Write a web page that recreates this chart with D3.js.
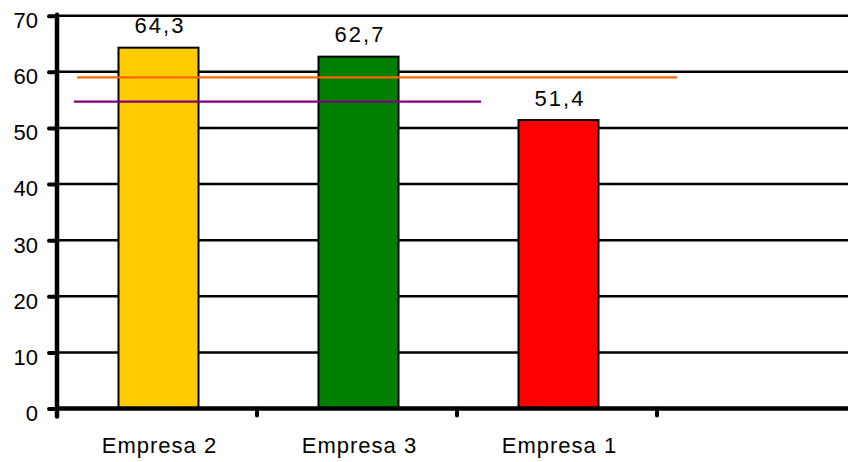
<!DOCTYPE html>
<html>
<head>
<meta charset="utf-8">
<script src="https://cdn.jsdelivr.net/npm/d3@7/dist/d3.min.js"></script>
<style>
  html, body { margin: 0; padding: 0; background: #fff; }
  svg { display: block; font-family: "Liberation Sans", Arial, sans-serif; }
</style>
</head>
<body>
<svg id="chart" width="848" height="462"></svg>
<script>
// Category names, bar values and bar colours
const categories = ["Empresa 2", "Empresa 3", "Empresa 1"];
const values = [64.3, 62.7, 51.4];
const barColors = ["#FFCC00", "#008000", "#FF0000"];

// Horizontal reference lines (value, start and end expressed in category slots)
const refValues = [59.0, 54.7];
const refStart = [0.1, 0.085];
const refEnd = [3.1, 2.12];
const refColors = ["#FF6600", "#800080"];

// Y axis ticks
const yTicks = [0, 10, 20, 30, 40, 50, 60, 70];
const slotCount = 4;

const svg = d3.select("#chart");
const plotLeft = 57, plotBottom = 408.5, plotTop = 15.7;

const x = d3.scaleLinear().domain([0, slotCount]).range([plotLeft, plotLeft + 200 * slotCount]);
const y = d3.scaleLinear().domain([0, 70]).range([plotBottom, plotTop]);

// Gridlines
svg.append("g")
  .selectAll("line")
  .data(yTicks.filter(d => d > 0))
  .join("line")
  .attr("x1", plotLeft).attr("x2", x(slotCount))
  .attr("y1", d => y(d)).attr("y2", d => y(d))
  .attr("stroke", "#000").attr("stroke-width", 2.5);

// Bars
svg.append("g")
  .selectAll("rect")
  .data(values)
  .join("rect")
  .attr("x", (d, i) => x(i + 0.5) - (x(0.4) - x(0)) / 2 + 1.5)
  .attr("width", x(0.4) - x(0))
  .attr("y", d => y(d))
  .attr("height", d => y(0) - y(d))
  .attr("fill", (d, i) => barColors[i])
  .attr("stroke", "#000").attr("stroke-width", 2);

// Reference lines
svg.append("g")
  .selectAll("line")
  .data(refValues)
  .join("line")
  .attr("x1", (d, i) => x(refStart[i]))
  .attr("x2", (d, i) => x(refEnd[i]))
  .attr("y1", d => y(d)).attr("y2", d => y(d))
  .attr("stroke", (d, i) => refColors[i])
  .attr("stroke-width", 2.2);

// Value labels above bars
svg.append("g")
  .selectAll("text")
  .data(values)
  .join("text")
  .attr("x", (d, i) => x(i + 0.5) + 3)
  .attr("y", d => y(d) - 14.5)
  .attr("text-anchor", "middle")
  .attr("font-size", 22)
  .attr("letter-spacing", "2px")
  .text(d => d.toFixed(1).replace(".", ","));

// Y axis
const yAxis = svg.append("g")
  .attr("transform", `translate(${plotLeft},0)`)
  .call(d3.axisLeft(y).tickValues(yTicks).tickSize(8).tickPadding(11));
yAxis.select(".domain").remove();
yAxis.append("line")
  .attr("x1", 0).attr("x2", 0).attr("y1", y(70) - 1).attr("y2", plotBottom + 8)
  .attr("stroke", "#000").attr("stroke-width", 4.5).attr("stroke-linecap", "round");
yAxis.selectAll(".tick line")
  .attr("stroke", "#000").attr("stroke-width", 4).attr("stroke-linecap", "round");
yAxis.selectAll(".tick text")
  .attr("font-size", 22)
  .attr("dy", "0.72em")
  .attr("y", -4)
  .attr("fill", "#000");

// X axis
const xAxis = svg.append("g")
  .attr("transform", `translate(0,${plotBottom})`);
xAxis.append("line")
  .attr("x1", plotLeft).attr("x2", x(slotCount))
  .attr("stroke", "#000").attr("stroke-width", 4.5);
xAxis.selectAll(".xtick")
  .data(d3.range(slotCount))
  .join("line")
  .attr("class", "xtick")
  .attr("x1", d => x(d)).attr("x2", d => x(d))
  .attr("y1", 0).attr("y2", 7)
  .attr("stroke", "#000").attr("stroke-width", 4).attr("stroke-linecap", "round");
xAxis.selectAll(".xlabel")
  .data(categories)
  .join("text")
  .attr("class", "xlabel")
  .attr("x", (d, i) => x(i + 0.5) + 2.5)
  .attr("y", 44.5)
  .attr("text-anchor", "middle")
  .attr("font-size", 22)
  .attr("letter-spacing", "1px")
  .text(d => d);
</script>
</body>
</html>
